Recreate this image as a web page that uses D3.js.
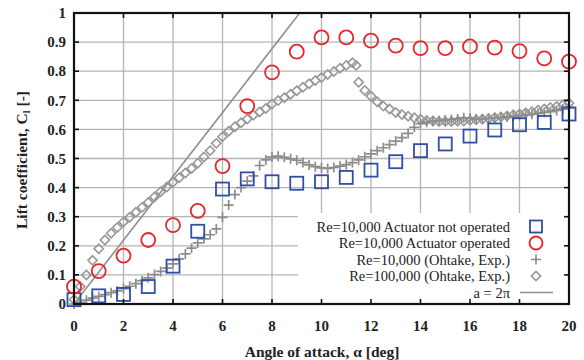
<!DOCTYPE html>
<html><head><meta charset="utf-8">
<script src="https://cdn.jsdelivr.net/npm/d3@7"></script>
<style>body{margin:0;background:#fff}svg{display:block}</style>
</head><body>
<script>
// ---- data ----
const xTicks = [0,2,4,6,8,10,12,14,16,18,20];
const yTicks = [0,0.1,0.2,0.3,0.4,0.5,0.6,0.7,0.8,0.9,1];
const yTickLabels = ["0","0.1","0.2","0.3","0.4","0.5","0.6","0.7","0.8","0.9","1"];

const alphaInt = [0,1,2,3,4,5,6,7,8,9,10,11,12,13,14,15,16,17,18,19,20];
const clOff = [0.015,0.028,0.033,0.06,0.13,0.25,0.395,0.43,0.42,0.415,0.42,0.435,0.46,0.489,0.527,0.55,0.577,0.598,0.616,0.624,0.653];
const clOn  = [0.06,0.113,0.166,0.22,0.271,0.32,0.474,0.68,0.796,0.867,0.916,0.916,0.905,0.888,0.879,0.879,0.885,0.881,0.869,0.844,0.833];

const alphaRe10k = [0,0.25,0.5,0.75,1,1.25,1.5,1.75,2,2.25,2.5,2.75,3,3.25,3.5,3.75,4,4.25,4.5,4.75,5,5.25,5.5,5.75,6,6.25,6.5,6.75,7,7.25,7.5,7.75,8,8.25,8.5,8.75,9,9.25,9.5,9.75,10,10.25,10.5,10.75,11,11.25,11.5,11.75,12,12.25,12.5,12.75,13,13.25,13.5,13.75,14,14.25,14.5,14.75,15,15.25,15.5,15.75,16,16.25,16.5,16.75,17,17.25,17.5,17.75,18,18.25,18.5,18.75,19,19.25,19.5,19.75,20];
const clRe10k = [0,0.006,0.013,0.02,0.026,0.032,0.039,0.045,0.053,0.061,0.07,0.08,0.09,0.101,0.112,0.123,0.138,0.155,0.172,0.192,0.21,0.224,0.238,0.258,0.298,0.34,0.376,0.4,0.422,0.44,0.476,0.495,0.505,0.508,0.504,0.499,0.494,0.486,0.478,0.472,0.468,0.466,0.469,0.474,0.479,0.486,0.495,0.506,0.516,0.527,0.537,0.548,0.56,0.572,0.586,0.607,0.62,0.625,0.628,0.63,0.632,0.634,0.636,0.64,0.638,0.636,0.637,0.638,0.64,0.641,0.643,0.645,0.647,0.65,0.652,0.655,0.658,0.661,0.665,0.67,0.675];

const alphaRe100k = [0,0.25,0.5,0.75,1,1.25,1.5,1.75,2,2.25,2.5,2.75,3,3.25,3.5,3.75,4,4.25,4.5,4.75,5,5.25,5.5,5.75,6,6.25,6.5,6.75,7,7.25,7.5,7.75,8,8.25,8.5,8.75,9,9.25,9.5,9.75,10,10.25,10.5,10.75,11,11.25,11.4,11.5,11.75,12,12.25,12.5,12.75,13,13.25,13.5,13.75,14,14.25,14.5,14.75,15,15.25,15.5,15.75,16,16.25,16.5,16.75,17,17.25,17.5,17.75,18,18.25,18.5,18.75,19,19.25,19.5,19.75,20];
const clRe100k = [0.015,0.06,0.1,0.15,0.19,0.22,0.243,0.263,0.282,0.298,0.315,0.332,0.349,0.368,0.386,0.402,0.418,0.434,0.45,0.466,0.484,0.505,0.527,0.552,0.575,0.594,0.609,0.623,0.636,0.649,0.66,0.672,0.687,0.699,0.709,0.721,0.733,0.745,0.757,0.768,0.778,0.789,0.799,0.81,0.82,0.829,0.82,0.762,0.734,0.714,0.695,0.68,0.67,0.658,0.651,0.645,0.64,0.635,0.631,0.629,0.627,0.627,0.627,0.628,0.629,0.631,0.633,0.635,0.637,0.64,0.643,0.646,0.65,0.653,0.657,0.661,0.666,0.67,0.675,0.679,0.684,0.69];

const thinAirfoilAlpha = [0,20];   // Cl = 2*pi*alpha(rad)
const legendLabels = ["Re=10,000 Actuator not operated","Re=10,000 Actuator operated","Re=10,000 (Ohtake, Exp.)","Re=100,000 (Ohtake, Exp.)","a = 2\u03c0"];

// ---- layout ----
const W=584,H=360;
const svg=d3.select("body").append("svg").attr("width",W).attr("height",H);
const x=d3.scaleLinear().domain([0,20]).range([74,569]);
const y=d3.scaleLinear().domain([0,1]).range([304,13]);
const serif="'Liberation Serif','Times New Roman',serif";
const BLUE="#2f4ea6", RED="#e8262a", GRAY="#8f8f8f", GRID="#b4b4b4";

// grid
const g=svg.append("g");
g.selectAll(".vg").data(xTicks.slice(1,-1)).enter().append("line")
 .attr("x1",d=>x(d)).attr("x2",d=>x(d)).attr("y1",y(0)).attr("y2",y(1))
 .attr("stroke",GRID).attr("stroke-width",1.3);
g.selectAll(".hg").data(yTicks.slice(1,-1)).enter().append("line")
 .attr("x1",x(0)).attr("x2",x(20)).attr("y1",d=>y(d)).attr("y2",d=>y(d))
 .attr("stroke",GRID).attr("stroke-width",1.3);

// clip
svg.append("clipPath").attr("id","pc").append("rect")
 .attr("x",x(0)).attr("y",y(1)).attr("width",x(20)-x(0)).attr("height",y(0)-y(1));

// 2pi line
const line2pi=d3.line().x(d=>x(d)).y(d=>y(2*Math.PI*d*Math.PI/180));
svg.append("path").datum(thinAirfoilAlpha).attr("d",line2pi).attr("clip-path","url(#pc)")
 .attr("fill","none").attr("stroke",GRAY).attr("stroke-width",1.6);

// legend box
svg.append("rect").attr("x",298).attr("y",213).attr("width",x(20)-298).attr("height",y(0)-213).attr("fill","#fff");

// diamonds
function diamond(cx,cy,r){return `M${cx},${cy-r}L${cx+r},${cy}L${cx},${cy+r}L${cx-r},${cy}Z`;}
svg.append("g").selectAll("path").data(alphaRe100k.map((a,i)=>[a,clRe100k[i]])).enter().append("path")
 .attr("d",d=>diamond(x(d[0]),y(d[1]),4.6)).attr("fill","none").attr("stroke","#979797").attr("stroke-width",1.6);
// pluses
function plus(cx,cy,r){return `M${cx-r},${cy}H${cx+r}M${cx},${cy-r}V${cy+r}`;}
svg.append("g").selectAll("path").data(alphaRe10k.map((a,i)=>[a,clRe10k[i]])).enter().append("path")
 .attr("d",d=>plus(x(d[0]),y(d[1]),5)).attr("fill","none").attr("stroke","#8c8c8c").attr("stroke-width",1.7);
// squares
svg.append("g").selectAll("rect").data(alphaInt.map((a,i)=>[a,clOff[i]])).enter().append("rect")
 .attr("x",d=>x(d[0])-6.5).attr("y",d=>y(d[1])-6.5).attr("width",13).attr("height",13)
 .attr("fill","none").attr("stroke",BLUE).attr("stroke-width",1.8);
// circles
svg.append("g").selectAll("circle").data(alphaInt.map((a,i)=>[a,clOn[i]])).enter().append("circle")
 .attr("cx",d=>x(d[0])).attr("cy",d=>y(d[1])).attr("r",7)
 .attr("fill","none").attr("stroke",RED).attr("stroke-width",1.8);

// legend
const lg=svg.append("g");
const ly=[226.5,243,259.5,276,292.5];
legendLabels.forEach((t,i)=>{
  lg.append("text").attr("x",510).attr("y",ly[i]).attr("dy","0.35em").attr("text-anchor","end")
   .attr("font-family",serif).attr("font-size",14.5).attr("fill","#222").text(t);
});
const sx=536;
lg.append("rect").attr("x",sx-6).attr("y",ly[0]-6).attr("width",12).attr("height",12).attr("fill","none").attr("stroke",BLUE).attr("stroke-width",1.8);
lg.append("circle").attr("cx",sx).attr("cy",ly[1]).attr("r",6.5).attr("fill","none").attr("stroke",RED).attr("stroke-width",1.8);
lg.append("path").attr("d",plus(sx,ly[2],5)).attr("stroke","#8c8c8c").attr("stroke-width",1.6);
lg.append("path").attr("d",diamond(sx,ly[3],4.6)).attr("fill","none").attr("stroke","#979797").attr("stroke-width",1.6);
lg.append("line").attr("x1",520).attr("x2",553).attr("y1",ly[4]).attr("y2",ly[4]).attr("stroke",GRAY).attr("stroke-width",1.6);

// axes ticks (inward)
const ax=svg.append("g").attr("stroke","#111").attr("stroke-width",1.6);
xTicks.slice(1,-1).forEach(t=>{
  ax.append("line").attr("x1",x(t)).attr("x2",x(t)).attr("y1",y(1)).attr("y2",y(1)+5);
  ax.append("line").attr("x1",x(t)).attr("x2",x(t)).attr("y1",y(0)).attr("y2",y(0)-5);
});
yTicks.slice(1,-1).forEach(t=>{
  ax.append("line").attr("x1",x(20)).attr("x2",x(20)-5).attr("y1",y(t)).attr("y2",y(t));
  ax.append("line").attr("x1",x(0)).attr("x2",x(0)+5).attr("y1",y(t)).attr("y2",y(t));
});
// frame
svg.append("rect").attr("x",x(0)).attr("y",y(1)).attr("width",x(20)-x(0)).attr("height",y(0)-y(1))
 .attr("fill","none").attr("stroke","#111").attr("stroke-width",2.2);

// tick labels
svg.append("g").selectAll("text").data(xTicks).enter().append("text")
 .attr("x",d=>x(d)).attr("y",331).attr("text-anchor","middle")
 .attr("font-family",serif).attr("font-weight","bold").attr("font-size",15).attr("fill","#222").text(d=>d);
svg.append("g").selectAll("text").data(yTicks).enter().append("text")
 .attr("x",66).attr("y",d=>y(d)).attr("dy","0.35em").attr("text-anchor","end")
 .attr("font-family",serif).attr("font-weight","bold").attr("font-size",15).attr("fill","#222").text((d,i)=>yTickLabels[i]);

// axis titles
svg.append("text").attr("x",322).attr("y",357).attr("text-anchor","middle")
 .attr("font-family",serif).attr("font-weight","bold").attr("font-size",15.5).attr("fill","#222")
 .text("Angle of attack, \u03b1 [deg]");
const yt=svg.append("text").attr("transform","translate(27,160) rotate(-90)").attr("text-anchor","middle")
 .attr("font-family",serif).attr("font-weight","bold").attr("font-size",15.5).attr("fill","#222");
yt.append("tspan").text("Lift coefficient, C");
yt.append("tspan").attr("font-size",10).attr("dy",3).text("l");
yt.append("tspan").attr("dy",-3).text(" [-]");
</script>
</body></html>
